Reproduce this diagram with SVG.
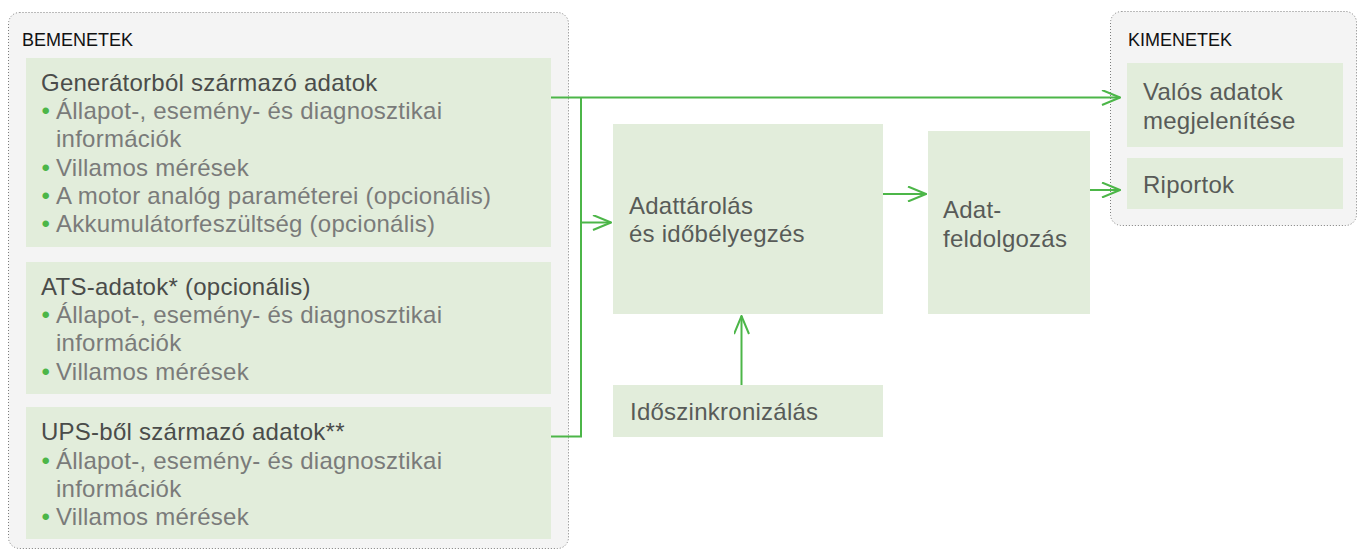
<svg xmlns="http://www.w3.org/2000/svg" width="1359" height="551" viewBox="0 0 1359 551">
  <style>
    .panel { fill: #f4f4f4; stroke: #7c7c7c; stroke-width: 1; stroke-dasharray: 1 2; }
    .box { fill: #e2eddb; }
    .hdr { font-family: "Liberation Sans", Arial, sans-serif; font-size: 18px; fill: #111; }
    .t { font-family: "Liberation Sans", Arial, sans-serif; font-size: 24px; letter-spacing: 0.25px; }
    .title { fill: #4a4c4a; }
    .item { fill: #7a7b7a; }
    .lbl { fill: #585b58; }
    .dot { fill: #4cb648; }
    .wire { fill: none; stroke: #4cb648; stroke-width: 2; }
  </style>
  <defs>
    <marker id="open-arrow" viewBox="0 0 20 16" refX="19" refY="8" markerWidth="20" markerHeight="16" markerUnits="userSpaceOnUse" orient="auto">
      <path d="M1,0.5 L19,8 L1,15.5" fill="none" stroke="#4cb648" stroke-width="2"/>
    </marker>
  </defs>

  <!-- input panel -->
  <g id="bemenetek">
    <rect class="panel" x="8.5" y="12.5" width="560" height="536" rx="11"/>
    <text class="hdr" x="22" y="46">BEMENETEK</text>
  </g>

  <g id="generator-adatok">
    <rect class="box" x="26" y="58" width="525" height="189"/>
    <text class="t title" x="41" y="90.5">Generátorból származó adatok</text>
    <text class="t dot" x="41.5" y="119">•</text>
    <text class="t item" x="56" y="119">Állapot-, esemény- és diagnosztikai</text>
    <text class="t item" x="56" y="147">információk</text>
    <text class="t dot" x="41.5" y="175.5">•</text>
    <text class="t item" x="56" y="175.5">Villamos mérések</text>
    <text class="t dot" x="41.5" y="204">•</text>
    <text class="t item" x="56" y="204">A motor analóg paraméterei (opcionális)</text>
    <text class="t dot" x="41.5" y="232">•</text>
    <text class="t item" x="56" y="232">Akkumulátorfeszültség (opcionális)</text>
  </g>

  <g id="ats-adatok">
    <rect class="box" x="26" y="262" width="525" height="132"/>
    <text class="t title" x="41" y="295">ATS-adatok* (opcionális)</text>
    <text class="t dot" x="41.5" y="323">•</text>
    <text class="t item" x="56" y="323">Állapot-, esemény- és diagnosztikai</text>
    <text class="t item" x="56" y="351">információk</text>
    <text class="t dot" x="41.5" y="379.5">•</text>
    <text class="t item" x="56" y="379.5">Villamos mérések</text>
  </g>

  <g id="ups-adatok">
    <rect class="box" x="26" y="407" width="525" height="132"/>
    <text class="t title" x="41" y="440">UPS-ből származó adatok**</text>
    <text class="t dot" x="41.5" y="468.5">•</text>
    <text class="t item" x="56" y="468.5">Állapot-, esemény- és diagnosztikai</text>
    <text class="t item" x="56" y="497">információk</text>
    <text class="t dot" x="41.5" y="525">•</text>
    <text class="t item" x="56" y="525">Villamos mérések</text>
  </g>

  <!-- processing chain -->
  <g id="adattarolas">
    <rect class="box" x="613" y="124" width="270" height="190"/>
    <text class="t lbl" x="629" y="213.5">Adattárolás</text>
    <text class="t lbl" x="629" y="241.5">és időbélyegzés</text>
  </g>

  <g id="idoszinkronizalas">
    <rect class="box" x="613" y="385" width="270" height="52"/>
    <text class="t lbl" x="630" y="419.5">Időszinkronizálás</text>
  </g>

  <g id="adatfeldolgozas">
    <rect class="box" x="928" y="131" width="162" height="183"/>
    <text class="t lbl" x="943" y="217.5">Adat-</text>
    <text class="t lbl" x="943" y="246.5">feldolgozás</text>
  </g>

  <!-- output panel -->
  <g id="kimenetek">
    <rect class="panel" x="1110.5" y="11.5" width="246" height="214" rx="11"/>
    <text class="hdr" x="1128" y="46">KIMENETEK</text>
  </g>

  <g id="valos-adatok">
    <rect class="box" x="1127" y="63" width="216" height="84"/>
    <text class="t lbl" x="1143" y="100">Valós adatok</text>
    <text class="t lbl" x="1143" y="128.5">megjelenítése</text>
  </g>

  <g id="riportok">
    <rect class="box" x="1127" y="158" width="216" height="51"/>
    <text class="t lbl" x="1143" y="193">Riportok</text>
  </g>

  <!-- connectors -->
  <g id="connectors">
    <path class="wire" d="M551,97.5 H1120" marker-end="url(#open-arrow)"/>
    <path class="wire" d="M581,97.5 V436.5 H551"/>
    <path class="wire" d="M581,222.5 H611" marker-end="url(#open-arrow)"/>
    <path class="wire" d="M883,194 H926" marker-end="url(#open-arrow)"/>
    <path class="wire" d="M1090,190 H1120" marker-end="url(#open-arrow)"/>
    <path class="wire" d="M741.5,385 V316" marker-end="url(#open-arrow)"/>
  </g>
</svg>
